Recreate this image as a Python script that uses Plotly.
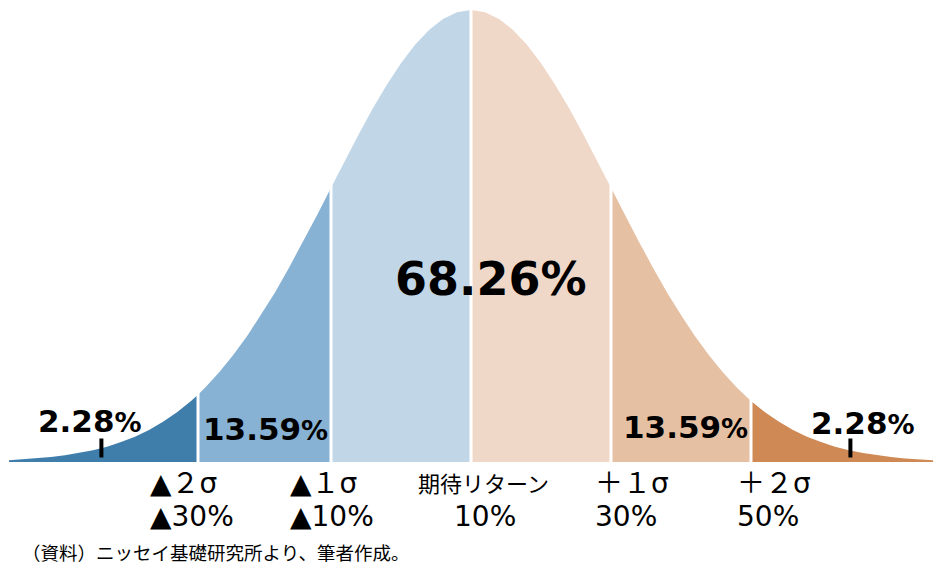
import plotly.graph_objects as go

# ---- data ----
# position along the return axis in sigma units, and relative curve height (peak = 1)
z_vals = [-3.3, -3.2, -3.1, -3.0, -2.9, -2.8, -2.7, -2.6, -2.5, -2.4, -2.3, -2.2, -2.1, -2.0, -1.95,
          -1.9, -1.8, -1.7, -1.6, -1.5, -1.4, -1.3, -1.2, -1.1, -1.0, -0.9, -0.8, -0.7, -0.6, -0.5,
          -0.4, -0.3, -0.2, -0.1, 0.0, 0.1, 0.2, 0.3, 0.4, 0.5, 0.6, 0.7, 0.8, 0.9, 1.0, 1.1, 1.2,
          1.3, 1.4, 1.5, 1.6, 1.7, 1.8, 1.9, 2.0, 2.1, 2.2, 2.3, 2.4, 2.5, 2.6, 2.7, 2.8, 2.9, 3.0,
          3.1, 3.2, 3.3]
h_vals = [0.004, 0.006, 0.008, 0.011, 0.015, 0.020, 0.026, 0.034, 0.044, 0.056, 0.071, 0.089, 0.110, 0.135, 0.149,
          0.164, 0.198, 0.236, 0.278, 0.325, 0.375, 0.430, 0.487, 0.546, 0.607, 0.667, 0.726, 0.783, 0.835, 0.882,
          0.923, 0.956, 0.980, 0.995, 1.000, 0.995, 0.980, 0.956, 0.923, 0.882, 0.835, 0.783, 0.726, 0.667, 0.607, 0.546, 0.487,
          0.430, 0.375, 0.325, 0.278, 0.236, 0.198, 0.164, 0.135, 0.110, 0.089, 0.071, 0.056, 0.044, 0.034, 0.026, 0.020, 0.015, 0.011,
          0.008, 0.006, 0.004]

boundaries = [-1.95, -1.0, 0.0, 1.0, 2.0]
region_colors = ["#3f7eab", "#88b2d4", "#c1d7e8", "#f0d8c8", "#e6c0a3", "#ce8955"]
region_labels = ["2.28", "13.59", "68.26", "13.59", "2.28"]

sigma_labels = ["▲２σ", "▲１σ", "期待リターン", "＋１σ", "＋２σ"]
return_labels = ["▲30%", "▲10%", "10%", "30%", "50%"]

tick_z = [-2.64, 2.71]
tick_top = 0.052
tick_bottom = 0.010

source_note = "（資料）ニッセイ基礎研究所より、筆者作成。"

W, H = 939, 568


def px(x):
    return x / W


def py(y):
    return 1 - y / H


fig = go.Figure()

edges = [z_vals[0]] + boundaries + [z_vals[-1]]
for i, col in enumerate(region_colors):
    a, b = edges[i], edges[i + 1]
    xs = [z for z in z_vals if a <= z <= b]
    ys = [h for z, h in zip(z_vals, h_vals) if a <= z <= b]
    fig.add_trace(go.Scatter(x=xs, y=ys, mode="lines", fill="tozeroy",
                             fillcolor=col, line=dict(width=0, color=col),
                             hoverinfo="skip", showlegend=False))

# white separators at the sigma boundaries
for b in boundaries:
    hb = h_vals[z_vals.index(b)]
    fig.add_trace(go.Scatter(x=[b, b], y=[0, hb + 0.02], mode="lines",
                             line=dict(color="white", width=3),
                             hoverinfo="skip", showlegend=False))

# small black tick marks under the tail labels
for t in tick_z:
    fig.add_trace(go.Scatter(x=[t, t], y=[tick_bottom, tick_top], mode="lines",
                             line=dict(color="black", width=4),
                             hoverinfo="skip", showlegend=False))

num_font = "DejaVu Sans"
ann = []
# region percentage labels: (center x px, center y px, size, pct size)
lab_pos = [(90, 421, 31, 27), (265, 429, 31, 27), (491, 279, 46, 46), (685, 427, 31, 27), (863, 423, 31, 27)]
for lab, (cx, cy, s, ps) in zip(region_labels, lab_pos):
    ann.append(dict(x=px(cx), y=py(cy), xref="paper", yref="paper",
                    text=f"<b>{lab}<span style='font-size:{ps}px'>%</span></b>",
                    showarrow=False, xanchor="center", yanchor="middle",
                    font=dict(family=num_font, size=s, color="black")))

# axis labels
col_x = [150, 290, 483, 595, 737]
for i, (sl, rl) in enumerate(zip(sigma_labels, return_labels)):
    if i == 2:
        ann.append(dict(x=px(col_x[i]), y=py(482), xref="paper", yref="paper", text=sl,
                        showarrow=False, xanchor="center", yanchor="middle",
                        font=dict(family="Noto Sans CJK JP", size=22, color="black")))
        ann.append(dict(x=px(485), y=py(516), xref="paper", yref="paper", text=rl,
                        showarrow=False, xanchor="center", yanchor="middle",
                        font=dict(family=num_font + ", Noto Sans CJK JP", size=28, color="black")))
    else:
        ann.append(dict(x=px(col_x[i] - 2), y=py(483), xref="paper", yref="paper", text=sl,
                        showarrow=False, xanchor="left", yanchor="middle",
                        font=dict(family=num_font + ", Noto Sans CJK JP", size=28, color="black")))
        ann.append(dict(x=px(col_x[i] - 2), y=py(516), xref="paper", yref="paper", text=rl,
                        showarrow=False, xanchor="left", yanchor="middle",
                        font=dict(family=num_font + ", Noto Sans CJK JP", size=28, color="black")))

ann.append(dict(x=px(20), y=py(552), xref="paper", yref="paper", text=source_note,
                showarrow=False, xanchor="left", yanchor="middle",
                font=dict(family="Noto Sans CJK JP", size=18.5, color="black")))

fig.update_layout(
    width=W, height=H,
    margin=dict(l=0, r=0, t=0, b=0),
    paper_bgcolor="white", plot_bgcolor="white",
    xaxis=dict(range=[-471 / 140, 468 / 140], visible=False, fixedrange=True),
    yaxis=dict(range=[-106 / 452, 1 + 10 / 452], visible=False, fixedrange=True),
    annotations=ann,
    showlegend=False,
)

fig.write_html("out.html", config={"displayModeBar": False},
               post_script="document.body.style.margin='0';document.body.style.overflow='hidden';")
